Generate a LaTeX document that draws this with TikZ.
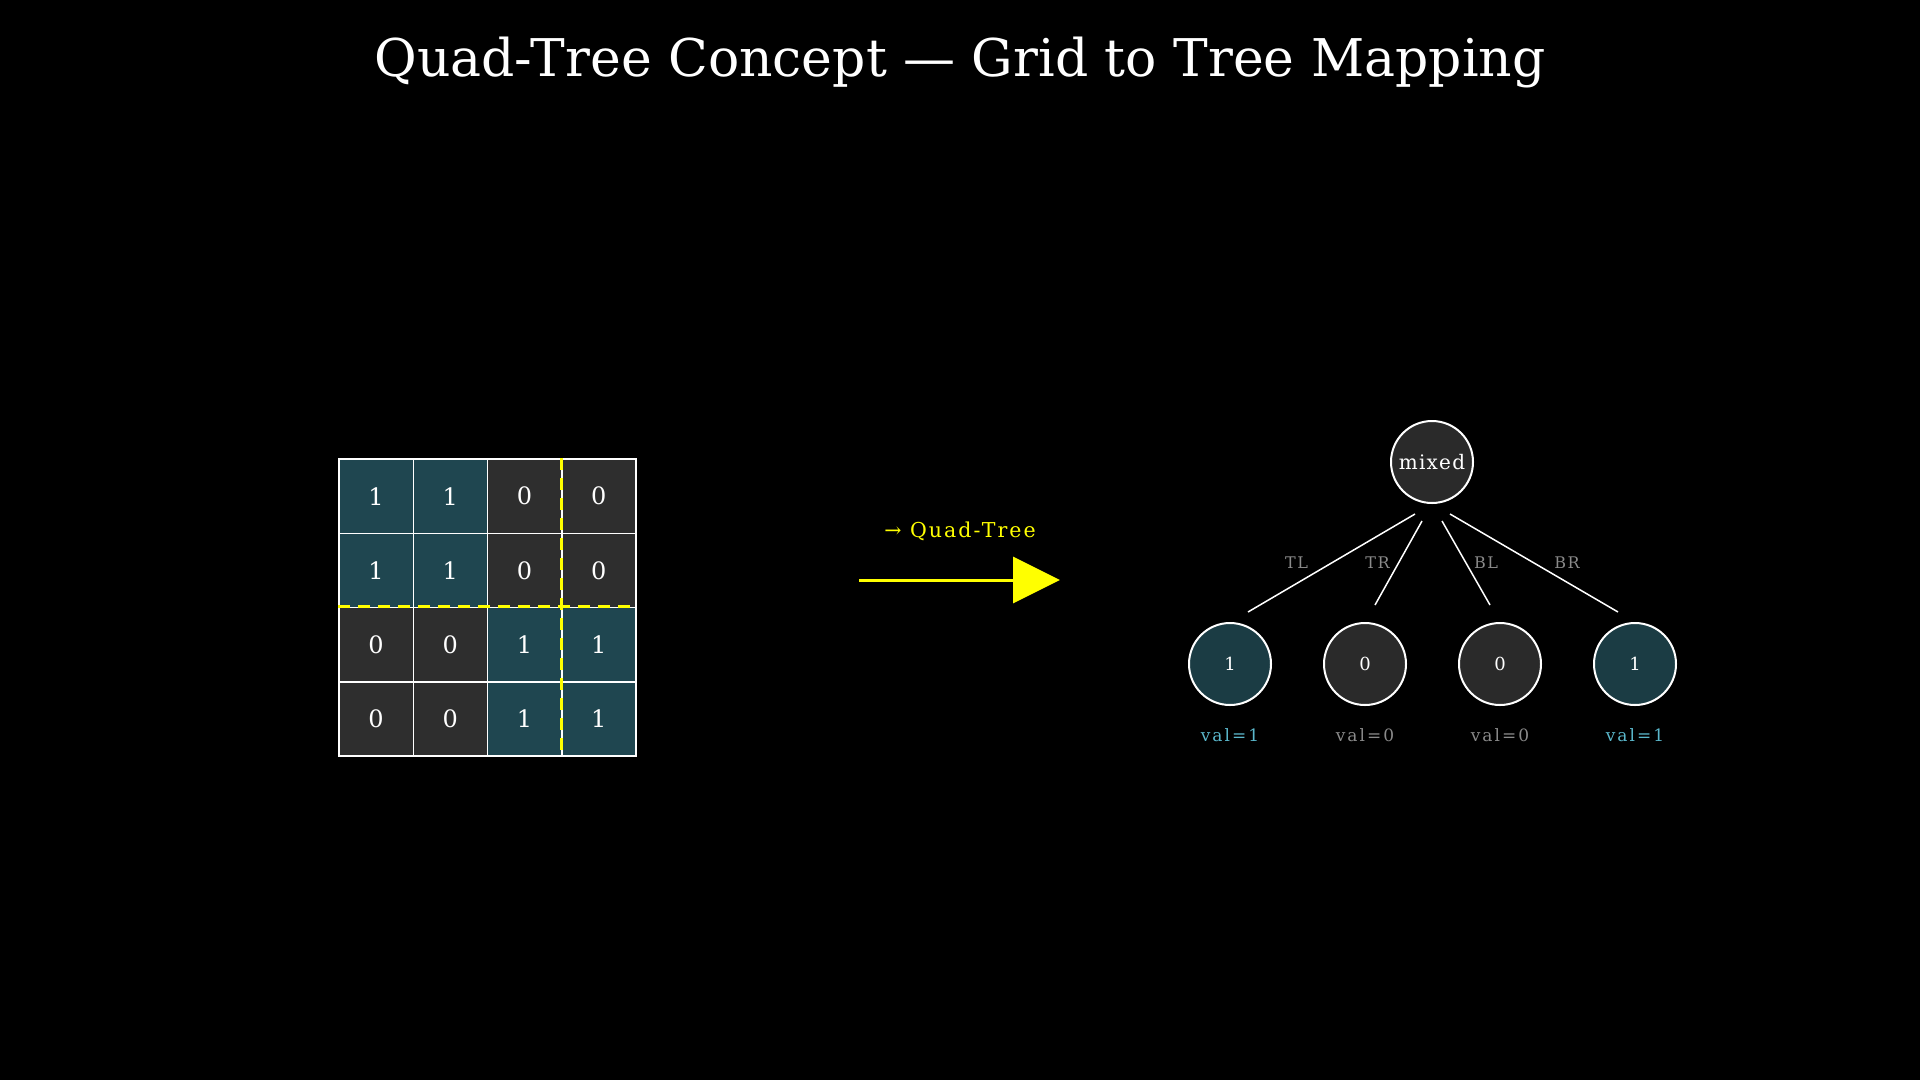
\documentclass[tikz,border=0pt]{standalone}
\usepackage{fontspec}
\setmainfont{DejaVu Serif}
\usepackage{xcolor}
\definecolor{CellOne}{HTML}{1F4650}
\definecolor{CellZero}{HTML}{2E2E2E}
\definecolor{LeafOne}{HTML}{1B3C44}
\definecolor{LeafZero}{HTML}{2A2A2A}
\definecolor{Mark}{HTML}{FFFF00}
\definecolor{Muted}{HTML}{8A8A8A}
\definecolor{ValOne}{HTML}{5BB8CC}
\usetikzlibrary{arrows.meta,positioning}

\begin{document}
\begin{tikzpicture}[x=1pt,y=-1pt,
  cell/.style={draw=white,line width=1.5pt,minimum size=74.25pt,inner sep=0pt,font=\fontsize{24}{28}\selectfont,text=white},
  split/.style={draw=Mark,line width=3pt,dash pattern=on 12pt off 8pt},
  tnode/.style={circle,draw=white,line width=2pt,minimum size=82pt,inner sep=0pt,text=white,font=\fontsize{18}{22}\selectfont},
  edge/.style={draw=white,line width=1.5pt},
  quad/.style={font=\fontsize{16}{19}\selectfont\addfontfeature{LetterSpace=10},text=Muted},
  val/.style={inner sep=0pt,font=\fontsize{17}{20}\selectfont\addfontfeature{LetterSpace=12}},
  arrow/.style={-{Triangle[length=47pt,width=46pt]},line width=3pt,color=Mark}
]
\fill[black] (0,0) rectangle (1920,1080);
\useasboundingbox (0,0) rectangle (1920,1080);

\node[text=white,font=\fontsize{52}{60}\selectfont] (title) at (960,63) {Quad-Tree Concept — Grid to Tree Mapping};

% grid
\foreach \row/\a/\b/\c/\d in {1/1/1/0/0,2/1/1/0/0,3/0/0/1/1,4/0/0/1/1}{
  \foreach \v [count=\col] in {\a,\b,\c,\d}{
    \ifnum\v=1 \def\cc{CellOne}\else\def\cc{CellZero}\fi
    \node[cell,fill=\cc] (g-\row-\col) at ({339+74.25*(\col-0.5)},{459+74.25*(\row-0.5)}) {\v};
  }
}
\draw[split] (g-1-4.north west) -- (g-4-4.south west);
\draw[split] (g-3-1.north west) -- (g-3-4.north east);

% arrow
\coordinate (arrS) at (859,580);
\coordinate (arrE) at (1060,580);
\draw[arrow] (arrS) -- (arrE);
\node[text=Mark,font=\fontsize{20.5}{24}\selectfont\addfontfeature{LetterSpace=10}] (arrlbl) at (960,531) {→ Quad-Tree};

% tree
\node[tnode,fill=LeafZero,font=\fontsize{20}{24}\selectfont\addfontfeature{LetterSpace=6}] (root) at (1432,462) {mixed};
\node[tnode,fill=LeafOne] (tl) at (1230,664) {1};
\node[tnode,fill=LeafZero,right=51pt of tl] (tr) {0};
\node[tnode,fill=LeafZero,right=51pt of tr] (bl) {0};
\node[tnode,fill=LeafOne,right=51pt of bl] (br) {1};

\draw[edge] ([xshift=-17pt,yshift=-10pt]root.south) -- node[quad,xshift=-35pt]{TL} ([xshift=18pt,yshift=10pt]tl.north);
\draw[edge] ([xshift=-10pt,yshift=-17pt]root.south) -- node[quad,xshift=-21pt]{TR} ([xshift=10pt,yshift=17pt]tr.north);
\draw[edge] ([xshift=10pt,yshift=-17pt]root.south) -- node[quad,xshift=20pt]{BL} ([xshift=-10pt,yshift=17pt]bl.north);
\draw[edge] ([xshift=18pt,yshift=-10pt]root.south) -- node[quad,xshift=33pt]{BR} ([xshift=-17pt,yshift=10pt]br.north);

\node[val,text=ValOne,below=22pt of tl] (tlv) {val=1};
\node[val,text=Muted,below=22pt of tr] (trv) {val=0};
\node[val,text=Muted,below=22pt of bl] (blv) {val=0};
\node[val,text=ValOne,below=22pt of br] (brv) {val=1};
\end{tikzpicture}
\end{document}
